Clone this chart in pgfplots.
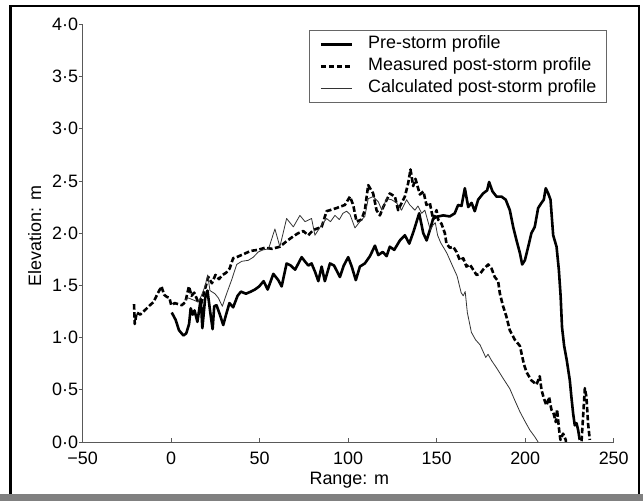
\documentclass[border=0pt]{standalone}
\usepackage{fontspec}
\setmainfont{Liberation Sans}
\usepackage{pgfplots}
\pgfplotsset{compat=1.18}
\newcommand{\chartfont}{\fontsize{18}{21}\selectfont}

\begin{document}
\begin{tikzpicture}[x=1bp,y=1bp]
% page frame as in the scan
\path (0,0) rectangle (643,501);
\fill[black!50] (0,0) rectangle (643,7);
\draw[line width=2.4bp] (10.5,7) -- (10.5,494.8) -- (639,494.8) -- (639,7);

\begin{axis}[
  at={(82.7bp,59bp)}, anchor=south west,
  scale only axis, width=531bp, height=417.7bp,
  xmin=-50, xmax=250, ymin=0, ymax=4,
  axis x line*=bottom, axis y line*=left,
  axis line style={black!65, line width=0.9bp},
  xtick={-50,0,50,100,150,200,250},
  xticklabels={−50,0,50,100,150,200,250},
  ytick={0,0.5,1,1.5,2,2.5,3,3.5,4},
  yticklabels={0·0,0·5,1·0,1·5,2·0,2·5,3·0,3·5,4·0},
  major tick length=4bp,
  tick style={black!65, line width=0.8bp},
  ytick style={xshift=-4bp},
  xticklabel style={font=\chartfont, inner sep=0pt, anchor=north, yshift=-9.5bp},
  yticklabel style={font=\chartfont, inner sep=0pt, anchor=east, xshift=-4.5bp},
  xlabel={Range: m}, ylabel={Elevation: m},
  xlabel style={at={(axis description cs:0.502,-0.1025)}, anchor=base, font=\chartfont},
  ylabel style={at={(axis description cs:-0.0785,0.493)}, anchor=base, font=\chartfont},
  legend style={at={(axis description cs:0.987,0.986)}, anchor=north east,
    draw=black!60, line width=0.8bp, fill=white, inner xsep=10bp, inner ysep=3bp,
    column sep=15bp, row sep=0pt, font=\chartfont,
    nodes={inner xsep=0pt, inner ysep=2.9bp, text height=12.5bp, text depth=3.5bp}},
  legend cell align=left,
  legend image code/.code={\draw[#1] (0bp,0bp) -- (31bp,0bp);},
]

% Pre-storm profile
\addplot[black, line width=2.6bp, line join=round] coordinates {
(0.3,1.24) (2.5,1.17) (4.4,1.07) (6.9,1.02) (8.5,1.04) (10.1,1.13) (11.0,1.28)
(12.2,1.22) (13.2,1.26) (14.8,1.15) (16.7,1.37) (17.6,1.09) (19.2,1.38) (20.5,1.45)
(22.0,1.25) (23.4,1.08) (24.3,1.30) (25.6,1.31) (27.5,1.22) (29.4,1.12) (31.0,1.22)
(32.9,1.33) (35.0,1.29) (37.5,1.40) (39.4,1.44) (42.2,1.42) (45.0,1.44) (47.3,1.46)
(49.7,1.49) (52.2,1.54) (54.5,1.46) (57.7,1.61) (60.5,1.55) (62.4,1.49) (65.2,1.71)
(67.5,1.69) (70.0,1.65) (73.7,1.77) (75.5,1.73) (77.5,1.69) (79.3,1.71) (81.5,1.62)
(83.1,1.54) (85.0,1.68) (86.8,1.54) (89.7,1.71) (92.0,1.69) (95.3,1.58) (97.5,1.69)
(100.0,1.77) (102.0,1.68) (104.3,1.55) (106.6,1.68) (109.4,1.71) (112.3,1.78)
(115.1,1.88) (117.0,1.79) (119.5,1.82) (121.7,1.78) (123.5,1.87) (126.0,1.84)
(129.2,1.93) (132.0,1.98) (134.5,1.90) (137.0,2.02) (140.1,2.19) (142.4,2.00)
(144.3,1.93) (146.5,2.05) (148.0,2.14) (150.8,2.16) (153.7,2.17) (157.4,2.16)
(160.2,2.19) (162.1,2.27) (164.0,2.26) (165.9,2.43) (167.8,2.25) (169.7,2.29)
(171.5,2.21) (173.4,2.32) (176.2,2.38) (178.5,2.41) (179.6,2.49) (181.5,2.40)
(183.8,2.35) (186.6,2.35) (189.0,2.32) (191.3,2.22) (193.2,2.06) (195.1,1.93)
(197.0,1.81) (198.3,1.70) (199.8,1.74) (201.7,1.87) (203.5,2.00) (205.4,2.06)
(207.3,2.24) (209.2,2.29) (210.5,2.32) (211.6,2.43) (213.0,2.38) (214.3,2.32)
(215.8,1.98) (217.7,1.87) (219.0,1.65) (220.0,1.40) (220.8,1.10) (222.0,0.92)
(223.5,0.78) (225.2,0.59) (226.1,0.43) (227.1,0.27) (228.0,0.16) (229.0,0.18)
(229.9,0.115) (230.8,0.02)
};
\addlegendentry{Pre-storm profile}

% Measured post-storm profile
\addplot[black, line width=2.6bp, dash pattern=on 5.5bp off 2.5bp, line join=round] coordinates {
(-21.0,1.32) (-20.6,1.13) (-19.5,1.24) (-17.5,1.22) (-15.0,1.26) (-12.0,1.31)
(-10.0,1.34) (-8.0,1.41) (-5.5,1.49) (-4.0,1.41) (-2.5,1.39) (-1.0,1.38) (0.0,1.31)
(2.0,1.33) (4.0,1.32) (6.0,1.31) (8.0,1.34) (10.0,1.49) (11.5,1.40) (13.0,1.43)
(15.0,1.35) (17.0,1.33) (19.0,1.46) (21.0,1.58) (23.0,1.52) (25.0,1.60) (27.0,1.56)
(29.0,1.60) (31.0,1.62) (33.0,1.66) (35.0,1.76) (37.0,1.77) (41.0,1.80) (45.0,1.83)
(49.0,1.84) (53.0,1.86) (57.0,1.85) (61.4,1.87) (65.0,1.92) (69.0,1.97) (71.8,2.00)
(74.6,2.02) (77.4,1.98) (80.3,2.03) (85.0,2.06) (87.8,2.21) (93.4,2.24) (98.1,2.27)
(101.0,2.35) (102.8,2.27) (104.7,2.11) (107.5,2.13) (109.4,2.22) (111.3,2.46)
(114.1,2.38) (116.0,2.22) (117.9,2.17) (119.8,2.25) (123.5,2.38) (126.4,2.35)
(128.2,2.22) (130.5,2.30) (132.0,2.35) (133.9,2.48) (135.2,2.61) (136.7,2.45)
(138.0,2.52) (140.5,2.37) (142.5,2.40) (144.2,2.27) (146.1,2.29) (148.0,2.13)
(149.9,2.22) (150.8,2.13) (152.7,2.09) (154.6,2.00) (155.5,1.90) (157.4,1.86)
(159.3,1.87) (161.2,1.82) (163.1,1.74) (165.0,1.76) (166.8,1.68) (168.7,1.70)
(170.6,1.65) (172.5,1.60) (174.4,1.61) (176.2,1.65) (179.1,1.70) (181.0,1.66)
(182.8,1.58) (184.7,1.54) (185.7,1.42) (187.5,1.30) (189.4,1.20) (191.3,1.07)
(194.1,0.98) (197.0,0.92) (197.9,0.85) (199.2,0.75) (200.7,0.67) (203.5,0.59)
(206.4,0.55) (208.2,0.63) (209.2,0.50) (210.5,0.42) (212.0,0.35) (213.5,0.43)
(214.8,0.31) (216.1,0.27) (217.3,0.19) (218.0,0.31) (219.2,0.11) (219.9,0.02)
(221.4,0.08) (222.9,0.02) (223.5,-0.1) (231.3,-0.1) (231.8,0.0) (233.7,0.515)
(234.6,0.43) (235.5,0.18) (236.5,0.02)
};
\addlegendentry{Measured post-storm profile}

% Calculated post-storm profile
\addplot[black!80, line width=0.8bp, line join=round] coordinates {
(8.0,1.36) (9.6,1.38) (12.5,1.36) (15.3,1.34) (17.0,1.40) (19.1,1.49) (20.6,1.60)
(21.9,1.45) (24.7,1.42) (26.6,1.38) (28.9,1.30) (31.3,1.42) (34.1,1.55) (37.0,1.70)
(39.8,1.73) (43.6,1.74) (46.4,1.77) (49.2,1.82) (52.0,1.84) (55.0,1.85) (58.6,2.04)
(61.4,1.87) (65.2,2.14) (69.0,2.06) (72.7,2.17) (75.6,2.11) (79.3,2.14) (81.2,1.98)
(85.0,2.08) (87.8,2.14) (90.0,2.11) (92.5,2.17) (95.0,2.13) (97.0,2.19) (99.1,2.21)
(101.0,2.18) (103.8,2.05) (106.6,2.11) (109.4,2.16) (111.3,2.33) (114.1,2.35)
(117.0,2.30) (119.0,2.22) (121.7,2.33) (124.5,2.32) (127.3,2.29) (130.1,2.22)
(133.0,2.32) (134.8,2.27) (137.7,2.22) (139.4,2.26) (141.5,2.19) (143.3,2.22)
(146.4,2.03) (148.0,2.08) (149.2,2.10) (150.5,1.98) (152.2,1.91) (155.7,1.81)
(159.1,1.68) (161.5,1.59) (163.8,1.43) (165.0,1.40) (166.1,1.44) (167.3,1.24)
(169.6,1.05) (171.9,0.98) (174.5,0.93) (177.7,0.81) (179.0,0.84) (181.0,0.78)
(183.8,0.71) (187.5,0.61) (191.3,0.51) (194.1,0.40) (197.0,0.29) (199.8,0.20)
(202.6,0.115) (205.4,0.05) (207.3,0.0)
};
\addlegendentry{Calculated post-storm profile}

\end{axis}
\end{tikzpicture}
\end{document}
